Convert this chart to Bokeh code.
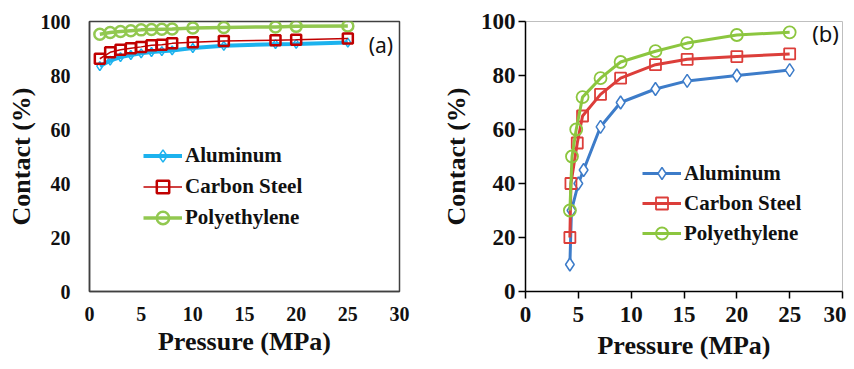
from bokeh.plotting import figure
from bokeh.layouts import row
from bokeh.models import Range1d, Legend, LegendItem, Label, FixedTicker
from bokeh.embed import file_html
from bokeh.resources import INLINE

# ---- data: panel (a) ----
x_a = [1, 2, 3, 4, 5, 6, 7, 8, 10, 13, 18, 20, 25]
al_a = [83.5, 85.5, 86.8, 87.6, 88.2, 88.7, 89.0, 89.3, 90.2, 91.0, 91.6, 91.7, 92.2]
cs_a = [86.2, 88.6, 89.5, 90.1, 90.6, 91.2, 91.4, 91.9, 92.3, 92.8, 93.1, 93.2, 93.7]
pe_a = [95.3, 95.9, 96.3, 96.6, 96.9, 97.0, 97.1, 97.2, 97.6, 97.8, 98.0, 98.2, 98.3]

# ---- data: panel (b) ----
x_al_b = [4.2, 4.35, 5.0, 5.5, 7.1, 9.0, 12.3, 15.3, 20, 25]
al_b = [10, 30, 40, 45, 61, 70, 75, 78, 80, 82]
x_cs_b = [4.2, 4.3, 4.9, 5.4, 7.1, 9.0, 12.3, 15.3, 20, 25]
cs_b = [20, 40, 55, 65, 73, 79, 84, 86, 87, 88]
x_pe_b = [4.2, 4.4, 4.8, 5.4, 7.1, 9.0, 12.3, 15.3, 20, 25]
pe_b = [30, 50, 60, 72, 79, 85, 89, 92, 95, 96]

series_names = ["Aluminum", "Carbon Steel", "Polyethylene"]
x_ticks = [0, 5, 10, 15, 20, 25, 30]
y_ticks = [0, 20, 40, 60, 80, 100]

SERIF = "Liberation Serif"


def style_axes(p, tick_size, title_size):
    p.x_range = Range1d(0, 30)
    p.y_range = Range1d(0, 100)
    p.xgrid.visible = False
    p.ygrid.visible = False
    p.xaxis.ticker = FixedTicker(ticks=x_ticks)
    p.yaxis.ticker = FixedTicker(ticks=y_ticks)
    for ax in (p.xaxis[0], p.yaxis[0]):
        ax.major_label_text_font = SERIF
        ax.major_label_text_font_style = "bold"
        ax.major_label_text_font_size = tick_size
        ax.major_label_text_color = "#111111"
        ax.axis_label_text_font = SERIF
        ax.axis_label_text_font_style = "bold"
        ax.axis_label_text_font_size = title_size
        ax.axis_label_text_color = "#111111"
        ax.minor_tick_line_color = None
    p.xaxis.axis_label = "Pressure (MPa)"
    p.yaxis.axis_label = "Contact (%)"


def make_legend(items, loc, row_h):
    leg = Legend(items=items, location=loc)
    leg.label_text_font = SERIF
    leg.label_text_font_style = "bold"
    leg.label_text_font_size = "21px"
    leg.label_text_color = "#111111"
    leg.glyph_width = 39
    leg.glyph_height = row_h
    leg.label_height = row_h
    leg.label_standoff = 3
    leg.padding = 0
    leg.margin = 0
    leg.spacing = 0
    leg.border_line_color = None
    leg.background_fill_alpha = 0
    return leg


# ---------------- panel (a) ----------------
pa = figure(width=420, height=367, output_backend="svg", toolbar_location=None,
            min_border_left=89, min_border_right=21, min_border_top=21, min_border_bottom=69)
style_axes(pa, "20px", "26px")
pa.axis.axis_line_color = "#404040"
pa.axis.axis_line_width = 1.5
pa.axis.major_tick_line_color = None
pa.axis.major_tick_in = 0
pa.axis.major_tick_out = 0
pa.xaxis.major_label_standoff = 15
pa.yaxis.major_label_standoff = 19
pa.xaxis.axis_label_standoff = 3
pa.yaxis.axis_label_standoff = 2
pa.outline_line_color = "#404040"
pa.outline_line_width = 1.5

c_al_a, c_cs_a, c_pe_a = "#1CB2EE", "#C00000", "#92C850"
l1 = pa.line(x_a, al_a, line_color=c_al_a, line_width=4)
s1 = pa.scatter(x_a, al_a, marker="diamond", size=9, line_color=c_al_a, fill_color=None, line_width=1.5)
l3 = pa.line(x_a, pe_a, line_color=c_pe_a, line_width=3.5)
s3 = pa.scatter(x_a, pe_a, marker="circle", size=11, line_color=c_pe_a, fill_color=None, line_width=2.5)
l2 = pa.line(x_a, cs_a, line_color=c_cs_a, line_width=1.5)
s2 = pa.scatter(x_a, cs_a, marker="square", size=10, line_color=c_cs_a, fill_color=None, line_width=2.5)

pa.add_layout(make_legend([LegendItem(label=series_names[0], renderers=[l1, s1]),
                           LegendItem(label=series_names[1], renderers=[l2, s2]),
                           LegendItem(label=series_names[2], renderers=[l3, s3])],
                          (54, 58), 31))
pa.add_layout(Label(x=28.2, y=91.3, text="(a)", text_font="Noto Sans", text_font_size="21px",
                    text_align="center", text_baseline="middle", text_color="#111111"))

# ---------------- panel (b) ----------------
pb = figure(width=426, height=367, output_backend="svg", toolbar_location=None,
            min_border_left=105, min_border_right=4, min_border_top=20, min_border_bottom=76)
style_axes(pb, "23px", "26px")
pb.axis.axis_line_color = "#000000"
pb.axis.axis_line_width = 1.5
pb.axis.major_tick_line_color = "#000000"
pb.axis.major_tick_line_width = 1.5
pb.axis.major_tick_in = 0
pb.axis.major_tick_out = 7
pb.xaxis.major_label_standoff = 8
pb.yaxis.major_label_standoff = 3
pb.xaxis.axis_label_standoff = 6
pb.yaxis.axis_label_standoff = 7
pb.outline_line_color = "#BFBFBF"
pb.outline_line_width = 1

c_al_b, c_cs_b, c_pe_b = "#3D7CC9", "#DC3E3A", "#8CC63F"
m1 = pb.line(x_al_b, al_b, line_color=c_al_b, line_width=3)
t1 = pb.scatter(x_al_b, al_b, marker="diamond", size=13, line_color=c_al_b, fill_color="white", line_width=1.5)
m2 = pb.line(x_cs_b, cs_b, line_color=c_cs_b, line_width=3)
t2 = pb.scatter(x_cs_b, cs_b, marker="square", size=11, line_color=c_cs_b, fill_color=None, line_width=1.8)
m3 = pb.line(x_pe_b, pe_b, line_color=c_pe_b, line_width=3)
t3 = pb.scatter(x_pe_b, pe_b, marker="circle", size=12, line_color=c_pe_b, fill_color=None, line_width=1.8)

pb.add_layout(make_legend([LegendItem(label=series_names[0], renderers=[m1, t1]),
                           LegendItem(label=series_names[1], renderers=[m2, t2]),
                           LegendItem(label=series_names[2], renderers=[m3, t3])],
                          (117, 43), 30))
pb.add_layout(Label(x=28.4, y=95.6, text="(b)", text_font="Noto Sans", text_font_size="22px",
                    text_align="center", text_baseline="middle", text_color="#111111"))

layout = row(pa, pb)
open("out.html", "w").write(file_html(layout, INLINE))
